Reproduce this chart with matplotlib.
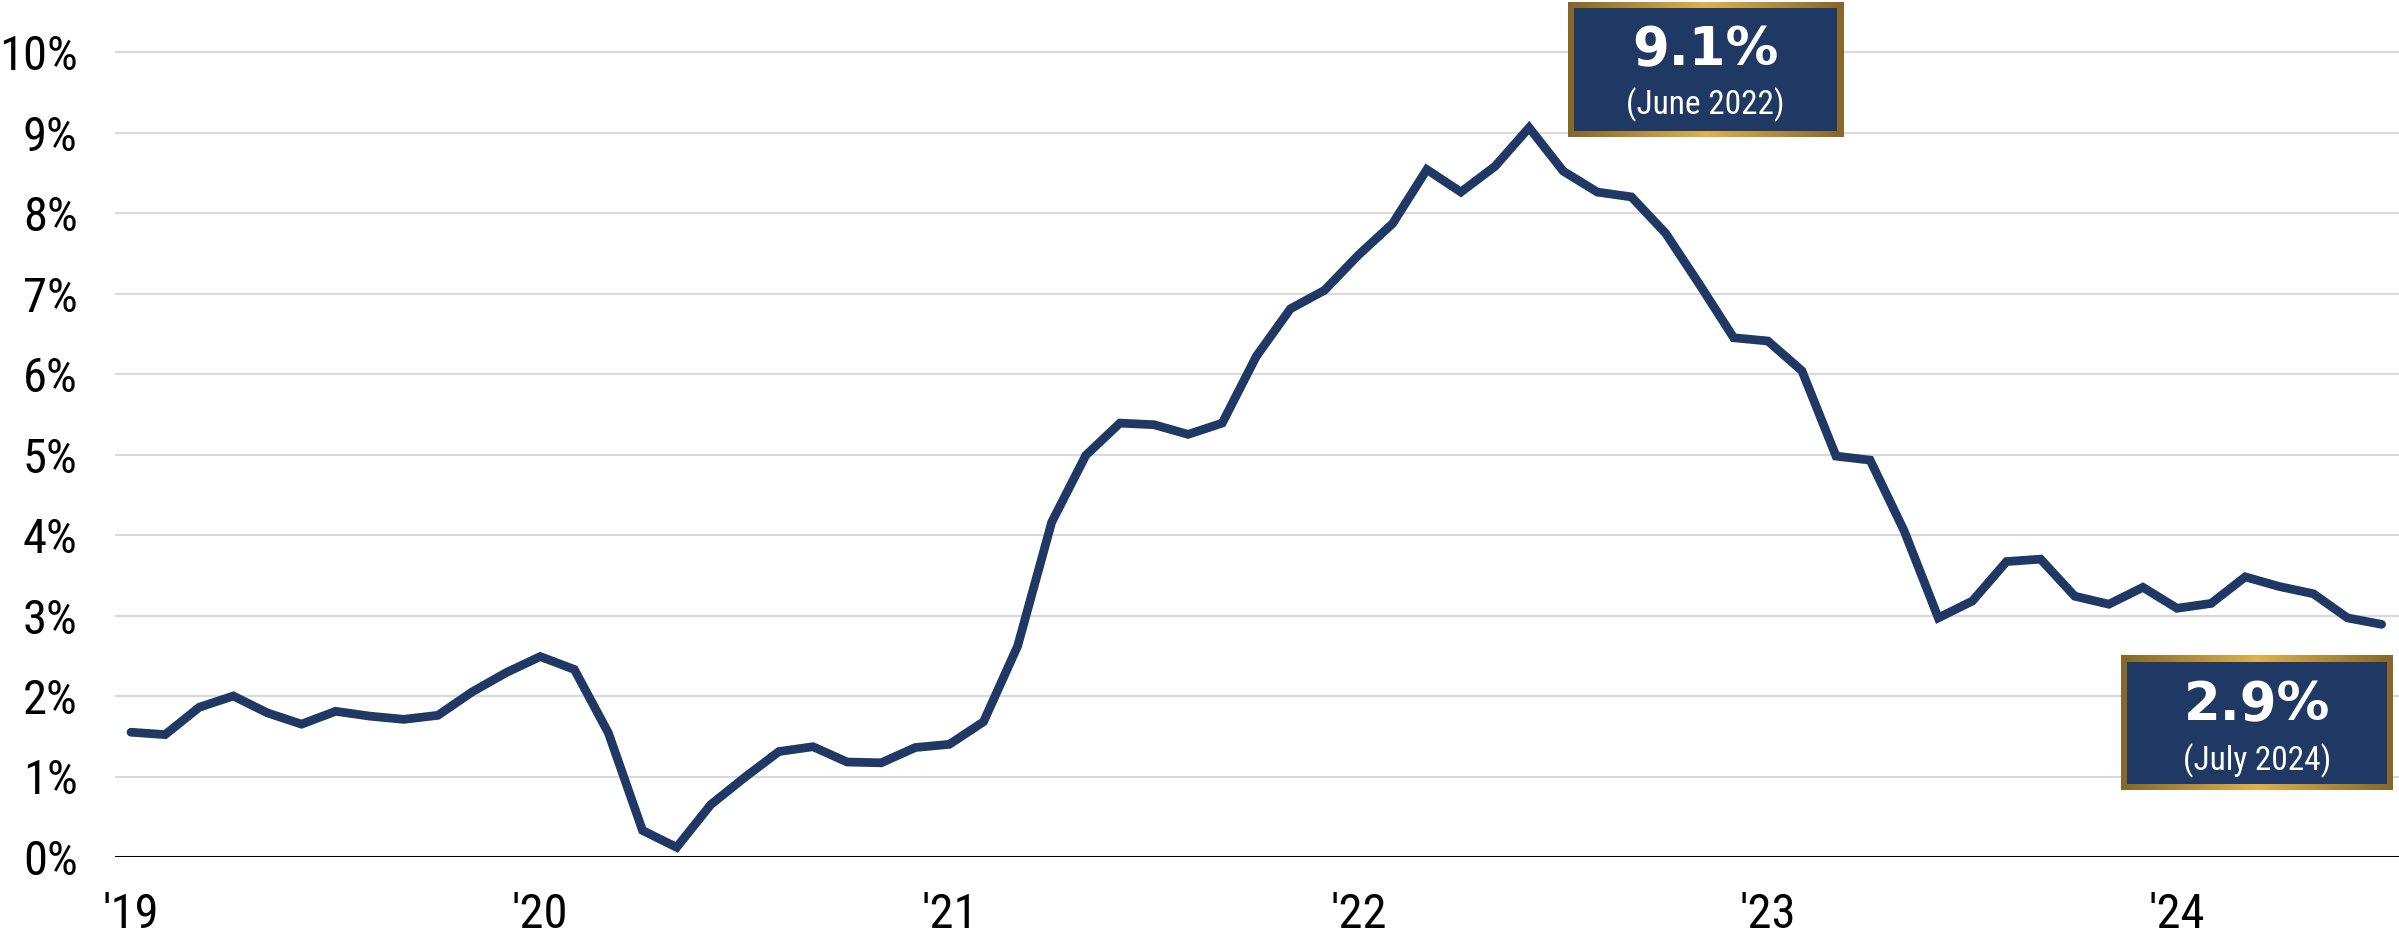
import matplotlib
matplotlib.use('Agg')
import matplotlib.pyplot as plt
import numpy as np
from matplotlib.colors import LinearSegmentedColormap
from matplotlib.patches import Rectangle
from matplotlib import font_manager as fm
from matplotlib.font_manager import FontProperties

# ---- data: US CPI year-over-year, Jan 2019 .. Jul 2024 ----
cpi_2019 = [1.55, 1.52, 1.86, 2.00, 1.79, 1.65, 1.81, 1.75, 1.71, 1.76, 2.05, 2.29]
cpi_2020 = [2.49, 2.33, 1.54, 0.33, 0.12, 0.65, 0.99, 1.31, 1.37, 1.18, 1.17, 1.36]
cpi_2021 = [1.40, 1.68, 2.62, 4.16, 4.99, 5.39, 5.37, 5.25, 5.39, 6.22, 6.81, 7.04]
cpi_2022 = [7.48, 7.87, 8.54, 8.26, 8.58, 9.06, 8.52, 8.26, 8.20, 7.75, 7.11, 6.45]
cpi_2023 = [6.41, 6.04, 4.98, 4.93, 4.05, 2.97, 3.18, 3.67, 3.70, 3.24, 3.14, 3.35]
cpi_2024 = [3.09, 3.15, 3.48, 3.36, 3.27, 2.97, 2.89]
cpi = cpi_2019 + cpi_2020 + cpi_2021 + cpi_2022 + cpi_2023 + cpi_2024

year_labels = ["'19", "'20", "'21", "'22", "'23", "'24"]
y_ticks = list(range(0, 11))
y_tick_labels = [f"{v}%" for v in y_ticks]

peak_text = "9.1%"
peak_sub = "(June 2022)"
last_text = "2.9%"
last_sub = "(July 2024)"

NAVY = '#1F3864'
GRID = '#D9D9D9'


# ---- choose a narrow sans font if one is installed ----
def narrow_font():
    entries = fm.fontManager.ttflist
    names = {f.name for f in entries}
    for n in ['Liberation Sans Narrow', 'Arial Narrow', 'Roboto Condensed',
              'Open Sans Condensed', 'Noto Sans Condensed',
              'DejaVu Sans Condensed', 'Nimbus Sans Narrow']:
        if n in names:
            return dict(family=n), True
    for n in ['Roboto', 'Noto Sans', 'Open Sans', 'DejaVu Sans', 'Liberation Sans']:
        for f in entries:
            if f.name != n or f.weight not in (400, 'normal', 'regular', 'book'):
                continue
            st = f.stretch
            if isinstance(st, str):
                if 'condensed' in st and 'semi' not in st:
                    return dict(family=n, stretch=st), True
            elif isinstance(st, (int, float)) and st <= 300:
                return dict(family=n, stretch=st), True
    return dict(family='Liberation Sans'), False


NKW, IS_NARROW = narrow_font()
TICK_SIZE = 35 if IS_NARROW else 29
SUB_SIZE = 24 if IS_NARROW else 20
tick_fp = FontProperties(size=TICK_SIZE, **NKW)
sub_fp = FontProperties(size=SUB_SIZE, **NKW)
big_fp = FontProperties(family='DejaVu Sans', weight='bold', size=38)

W, H = 2399, 933
fig = plt.figure(figsize=(W / 100, H / 100), dpi=100)
ax = fig.add_axes([115 / W, 76 / H, (W - 115) / W, 857 / H])

x = np.arange(len(cpi))
ax.plot(x, cpi, color=NAVY, lw=6.3, solid_capstyle='round',
        solid_joinstyle='miter', zorder=3)

for yv in y_ticks[1:]:
    ax.axhline(yv, color=GRID, lw=1.5, zorder=1)
ax.axhline(0, color='black', lw=2.2, zorder=2)

for s in ax.spines.values():
    s.set_visible(False)

ax.set_yticks(y_ticks)
ax.set_yticklabels(y_tick_labels, fontproperties=tick_fp)
ax.set_xticks(np.arange(0, len(cpi), 12))
ax.set_xticklabels(year_labels, fontproperties=tick_fp)
ax.tick_params(axis='y', length=0, pad=27)
ax.tick_params(axis='x', length=0, pad=25 if IS_NARROW else 27)

# gold gradient framed boxes
gold = LinearSegmentedColormap.from_list('gold', ['#86672A', '#DDB14C', '#86672A'])
grad = np.linspace(0, 1, 256).reshape(1, -1)


def label_box(x0, x1, y0, y1, big, small, yb_big, yb_small):
    ax.imshow(grad, cmap=gold, extent=(x0, x1, y0, y1), aspect='auto',
              zorder=5, interpolation='bicubic')
    bx = 6 / 34.1
    by = 6 / 80.5
    ax.add_patch(Rectangle((x0 + bx, y0 + by), (x1 - x0) - 2 * bx,
                           (y1 - y0) - 2 * by, facecolor=NAVY,
                           edgecolor='none', zorder=6))
    xc = (x0 + x1) / 2
    ax.text(xc, yb_big, big, ha='center', va='baseline', color='white',
            fontproperties=big_fp, zorder=7)
    ax.text(xc, yb_small, small, ha='center', va='baseline', color='white',
            fontproperties=sub_fp, zorder=7)


label_box(42.14, 50.21, 8.944, 10.62, peak_text, peak_sub, 9.84, 9.22)
label_box(58.36, 66.33, 0.832, 2.497, last_text, last_sub, 1.70, 1.08)

ax.set_xlim(-0.47, 66.51)
ax.set_ylim(0, 857 / 80.5)

fig.savefig('out.png', dpi=100, facecolor='white')
